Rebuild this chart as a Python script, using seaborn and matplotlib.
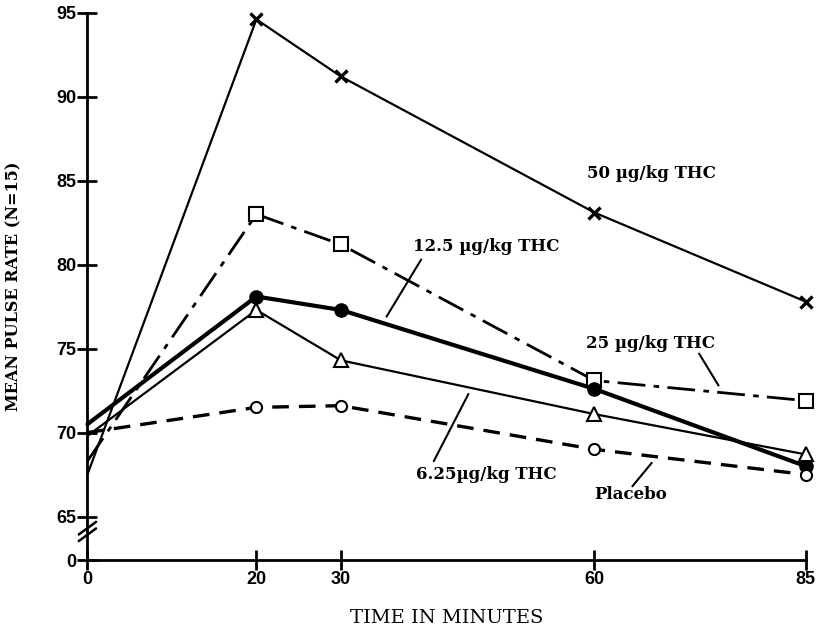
import numpy as np
import pandas as pd
import seaborn as sns
import matplotlib.pyplot as plt

# time points (minutes) and mean pulse rate per dose
minutes = [0, 20, 30, 60, 85]
thc_50 = [67.5, 94.6, 91.2, 83.1, 77.8]
thc_25 = [68.3, 83.0, 81.2, 73.1, 71.9]
thc_12_5 = [70.5, 78.1, 77.3, 72.6, 68.0]
thc_6_25 = [69.8, 77.3, 74.3, 71.1, 68.7]
placebo = [70.0, 71.5, 71.6, 69.0, 67.5]

y_ticks = [65, 70, 75, 80, 85, 90, 95]
y_zero = 62.4  # where the broken axis shows "0"

sns.set_theme(style="white")
plt.rcParams['font.family'] = ['DejaVu Serif']
plt.rcParams['text.color'] = 'black'
plt.rcParams['axes.labelcolor'] = 'black'

fig = plt.figure(figsize=(8.17, 6.33), dpi=100)
ax = fig.add_axes([0.107, 0.115, 0.879, 0.865])

common = dict(ax=ax, color='black', markevery=[1, 2, 3, 4], clip_on=False,
              markeredgecolor='black')

sns.lineplot(x=minutes, y=thc_50, linewidth=1.6, marker='x', markersize=8,
             markeredgewidth=2.4, **common)
sns.lineplot(x=minutes, y=thc_25, linewidth=2.0, linestyle=(0, (10, 3, 2, 3)),
             marker='s', markersize=10, markerfacecolor='white', markeredgewidth=1.5, **common)
sns.lineplot(x=minutes, y=thc_12_5, linewidth=3.0, marker='o', markersize=9,
             markerfacecolor='black', markeredgewidth=1.5, **common)
sns.lineplot(x=minutes, y=thc_6_25, linewidth=1.6, marker='^', markersize=10,
             markerfacecolor='white', markeredgewidth=1.5, **common)
sns.lineplot(x=minutes, y=placebo, linewidth=2.4, linestyle=(0, (5, 3)),
             marker='o', markersize=8, markerfacecolor='white', markeredgewidth=1.5, **common)

ax.set_xlim(0, 85)
ax.set_ylim(y_zero, 95)
ax.set_xticks(minutes)
ax.set_xticklabels([str(m) for m in minutes])
ax.set_yticks([y_zero] + y_ticks)
ax.set_yticklabels(['0'] + [str(t) for t in y_ticks])

for s in ['top', 'right']:
    ax.spines[s].set_visible(False)
for s in ['left', 'bottom']:
    ax.spines[s].set_color('black')
    ax.spines[s].set_linewidth(2)
ax.tick_params(axis='both', direction='inout', length=14, width=2, colors='black',
               labelsize=13, pad=1, bottom=True, left=True)
for lab in ax.get_xticklabels() + ax.get_yticklabels():
    lab.set_family('Liberation Sans')
    lab.set_fontweight('bold')

# axis break marks
for off in (0.0, 0.012):
    ax.plot([-0.012, 0.012], [0.035 + off, 0.058 + off], transform=ax.transAxes,
            color='black', linewidth=1.8, clip_on=False)

ax.set_ylabel('MEAN PULSE RATE (N=15)', fontsize=11.5, fontweight='bold')
ax.set_xlabel('TIME IN MINUTES', fontsize=14)
ax.yaxis.set_label_coords(-0.09, 0.50)
ax.xaxis.set_label_coords(0.50, -0.09)

txt = dict(fontsize=12, fontweight='bold', ha='center', va='center', color='black')
ax.text(66.7, 85.4, '50 µg/kg THC', **txt)
ax.text(47.2, 81.1, '12.5 µg/kg THC', **txt)
ax.text(66.7, 75.3, '25 µg/kg THC', **txt)
ax.text(47.2, 67.5, '6.25µg/kg THC', **txt)
ax.text(64.3, 66.3, 'Placebo', **txt)

lead = dict(arrowstyle='-', color='black', linewidth=1.5, shrinkA=0, shrinkB=0)
ax.annotate('', xy=(35.4, 76.9), xytext=(39.5, 80.3), arrowprops=lead)
ax.annotate('', xy=(74.7, 72.8), xytext=(72.4, 74.7), arrowprops=lead)
ax.annotate('', xy=(45.1, 72.3), xytext=(41.0, 68.3), arrowprops=lead)
ax.annotate('', xy=(66.8, 68.2), xytext=(64.5, 66.8), arrowprops=lead)

fig.savefig('out.png', dpi=100)
